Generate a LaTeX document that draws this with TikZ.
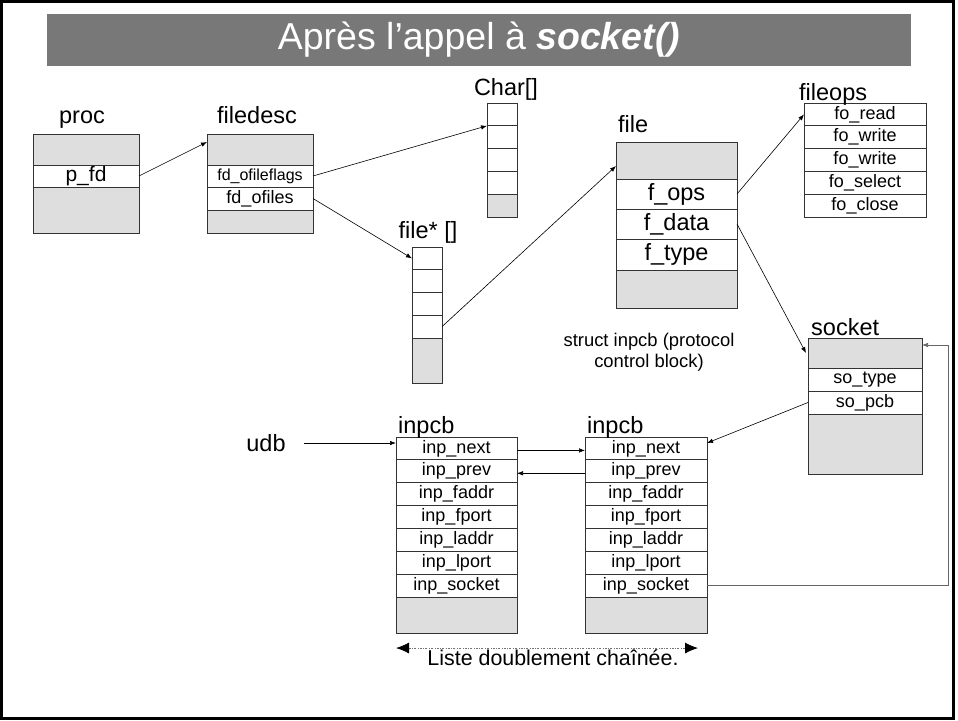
\documentclass[tikz,border=0pt]{standalone}
\usepackage{fontspec}
\setmainfont{Liberation Sans}
\usetikzlibrary{positioning,arrows.meta}
\newcommand{\taille}[1]{\fontsize{#1}{#1}\selectfont}
\begin{document}
\begin{tikzpicture}[
      x=1pt, y=-1pt,
      cellule/.style={
        draw=black!80,
        line width=0.8pt,
        fill=white,
        inner sep=0pt,
        outer sep=0pt,
        font=\taille{18}
      },
      grise/.style={cellule, fill=black!13},
      larg/.style={minimum width=#1},
      haut/.style={minimum height=#1},
      etiquette/.style={inner sep=0pt, font=\taille{23.5}},
      fleche/.style={-{Latex[length=6pt,width=4.5pt]}, line width=0.6pt},
      liste/.style={
        {Latex[length=13pt,width=11pt,black]}-{Latex[length=13pt,width=11pt,black]},
        draw=black!55,
        line width=0.8pt,
        dash pattern=on 2pt off 1.5pt on 0.6pt off 1.5pt
      }
    ]
    \useasboundingbox (0,0) rectangle (958,720);
    \draw[line width=3pt] (1.5,1.5) rectangle (953,718.5);
    \node[fill=black!53, minimum width=864, minimum height=52, inner sep=0pt,
      text=white, font=\taille{37.5}] (titre) at (479,40)
      {Après l’appel à \textbf{\textit{socket()}}};

    % proc
    \node[grise, larg=106, haut=31] (proc0) at (86,149.5) {};
    \node[cellule, larg=106, haut=22, below=0pt of proc0, font=\taille{21}] (pfd) {p\_fd};
    \node[grise, larg=106, haut=46, below=0pt of pfd] (proc1) {};
    \node[etiquette, above=11pt of proc0, anchor=base, xshift=-4pt] (lproc) {proc};

    % filedesc
    \node[grise, larg=106, haut=31] (fd0) at (260,149.5) {};
    \node[cellule, larg=106, haut=22, below=0pt of fd0, font=\taille{16}] (fdflags) {fd\_ofileflags};
    \node[cellule, larg=106, haut=23, below=0pt of fdflags] (fdfiles) {fd\_ofiles};
    \node[grise, larg=106, haut=23, below=0pt of fdfiles] (fd1) {};
    \node[etiquette, above=11pt of fd0, anchor=base, xshift=-3pt] (lfd) {filedesc};

    % Char[]
    \node[cellule, larg=30, haut=22.8] (ch1) at (502,114.4) {};
    \node[cellule, larg=30, haut=22.8, below=0pt of ch1] (ch2) {};
    \node[cellule, larg=30, haut=22.8, below=0pt of ch2] (ch3) {};
    \node[cellule, larg=30, haut=22.8, below=0pt of ch3] (ch4) {};
    \node[grise, larg=30, haut=22.8, below=0pt of ch4] (ch5) {};
    \node[etiquette, above=8pt of ch1, anchor=base, xshift=4pt] (lch) {Char[]};

    % file* []
    \node[cellule, larg=30, haut=22.75] (tf1) at (427,258.4) {};
    \node[cellule, larg=30, haut=22.75, below=0pt of tf1] (tf2) {};
    \node[cellule, larg=30, haut=22.75, below=0pt of tf2] (tf3) {};
    \node[cellule, larg=30, haut=22.75, below=0pt of tf3] (tf4) {};
    \node[grise, larg=30, haut=45, below=0pt of tf4] (tf5) {};
    \node[etiquette, above=9pt of tf1, anchor=base, xshift=1pt] (ltf) {file* []};

    % file
    \node[grise, larg=121, haut=37] (fi0) at (676.5,160.5) {};
    \node[cellule, larg=121, haut=30, below=0pt of fi0, font=\taille{23.5}] (fops) {f\_ops};
    \node[cellule, larg=121, haut=30, below=0pt of fops, font=\taille{23.5}] (fdata) {f\_data};
    \node[cellule, larg=121, haut=31, below=0pt of fdata, font=\taille{23.5}] (ftype) {f\_type};
    \node[grise, larg=121, haut=38, below=0pt of ftype] (fi1) {};
    \node[etiquette, above=10pt of fi0.north west, anchor=base west, xshift=2pt] (lfi) {file};

    % fileops
    \node[cellule, larg=122, haut=22.8] (fo1) at (865,114.4) {fo\_read};
    \node[cellule, larg=122, haut=22.8, below=0pt of fo1] (fo2) {fo\_write};
    \node[cellule, larg=122, haut=22.8, below=0pt of fo2] (fo3) {fo\_write};
    \node[cellule, larg=122, haut=22.8, below=0pt of fo3] (fo4) {fo\_select};
    \node[cellule, larg=122, haut=22.8, below=0pt of fo4] (fo5) {fo\_close};
    \node[etiquette, above=3pt of fo1.north west, anchor=base west, xshift=-5pt] (lfo) {fileops};

    % socket
    \node[grise, larg=114, haut=30] (so0) at (865,353) {};
    \node[cellule, larg=114, haut=23, below=0pt of so0] (sotype) {so\_type};
    \node[cellule, larg=114, haut=23, below=0pt of sotype] (sopcb) {so\_pcb};
    \node[grise, larg=114, haut=60, below=0pt of sopcb] (so1) {};
    \node[etiquette, above=3pt of so0.north west, anchor=base west, xshift=3pt] (lso) {socket};

    \node[align=center, inner sep=0pt, font=\fontsize{18.4}{21}\selectfont] (legende) at (649,352)
      {struct inpcb (protocol\\control block)};

    % inpcb 1
    \node[cellule, larg=121, haut=22.86] (p1) at (456.5,448.43) {inp\_next};
    \node[cellule, larg=121, haut=22.86, below=0pt of p1] (p2) {inp\_prev};
    \node[cellule, larg=121, haut=22.86, below=0pt of p2] (p3) {inp\_faddr};
    \node[cellule, larg=121, haut=22.86, below=0pt of p3] (p4) {inp\_fport};
    \node[cellule, larg=121, haut=22.86, below=0pt of p4] (p5) {inp\_laddr};
    \node[cellule, larg=121, haut=22.86, below=0pt of p5] (p6) {inp\_lport};
    \node[cellule, larg=121, haut=22.86, below=0pt of p6] (p7) {inp\_socket};
    \node[grise, larg=121, haut=36, below=0pt of p7] (p8) {};
    \node[etiquette, above=4pt of p1.north west, anchor=base west, xshift=2pt] (lp) {inpcb};

    % inpcb 2
    \node[cellule, larg=122, haut=22.86] (q1) at (646,448.43) {inp\_next};
    \node[cellule, larg=122, haut=22.86, below=0pt of q1] (q2) {inp\_prev};
    \node[cellule, larg=122, haut=22.86, below=0pt of q2] (q3) {inp\_faddr};
    \node[cellule, larg=122, haut=22.86, below=0pt of q3] (q4) {inp\_fport};
    \node[cellule, larg=122, haut=22.86, below=0pt of q4] (q5) {inp\_laddr};
    \node[cellule, larg=122, haut=22.86, below=0pt of q5] (q6) {inp\_lport};
    \node[cellule, larg=122, haut=22.86, below=0pt of q6] (q7) {inp\_socket};
    \node[grise, larg=122, haut=36, below=0pt of q7] (q8) {};
    \node[etiquette, above=4pt of q1.north west, anchor=base west, xshift=2pt] (lq) {inpcb};

    \node[etiquette] (udb) at (266,443) {udb};

    % pointeurs
    \draw[fleche] (pfd.east) -- ([yshift=-8pt]fd0.north west);
    \draw[fleche] (fdflags.east) -- (ch2.north west);
    \draw[fleche] (fdfiles.east) -- (tf1.west);
    \draw[fleche] (tf4.east) -- ([yshift=-24pt]fi0.north west);
    \draw[fleche] (fops.east) -- (fo1.west);
    \draw[fleche] (fdata.east) -- ([xshift=-2pt]so0.west);
    \draw[fleche] (sopcb.west) -- ([yshift=-6pt]q1.north east);
    \draw[fleche] ([xshift=18pt]udb.east) -- (udb.east -| p1.west);
    \draw[fleche] ([yshift=-2pt]p1.east) -- ([yshift=-2pt]q1.west);
    \draw[fleche] ([yshift=-2pt]q2.west) -- ([yshift=-2pt]p2.east);
    \coordinate (retour) at (948,345);
    \draw[fleche, draw=black!60] (q7.east) -| (retour) -- (retour -| so0.east);

    % liste
    \coordinate (lg) at ([yshift=-15pt]p8.south west);
    \coordinate (ld) at ([xshift=-9pt,yshift=-15pt]q8.south east);
    \draw[liste] (lg) -- (ld);
    \node[etiquette, font=\taille{21.4}, anchor=base] (lliste) at (553,665) {Liste doublement chaînée.};
  \end{tikzpicture}
\end{document}
